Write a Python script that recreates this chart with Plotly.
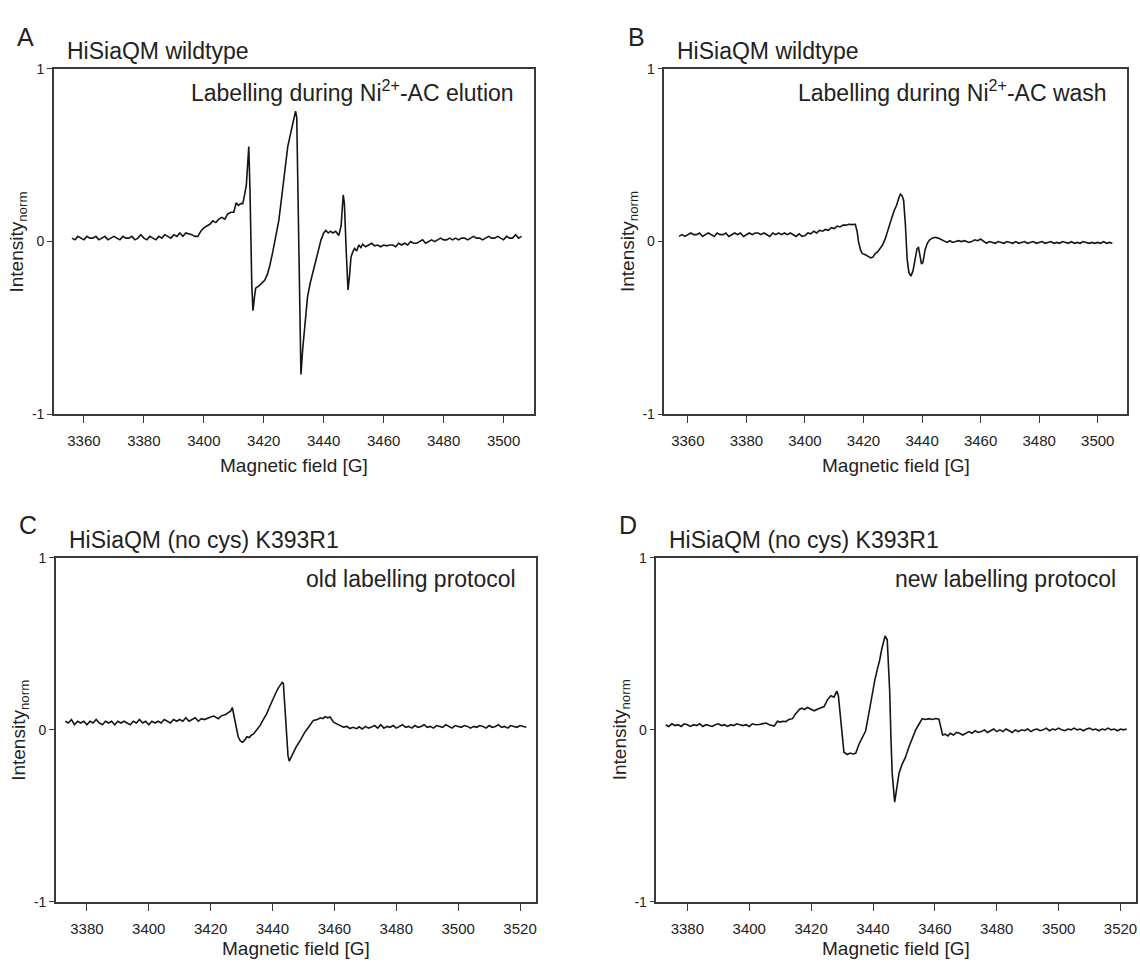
import plotly.graph_objects as go

# ---- spectra: (magnetic field [G], normalised intensity) ----
spectrum_a = [
    (3356, 0.02), (3357, 0.01), (3358, 0.03), (3359, 0.02), (3360, 0.01), (3361, 0.03), (3362, 0.02),
    (3363, 0.02), (3364, 0.03), (3365, 0.01), (3366, 0.02), (3367, 0.03), (3368, 0.01), (3369, 0.02),
    (3370, 0.03), (3371, 0.02), (3372, 0.01), (3373, 0.03), (3374, 0.02), (3375, 0.02), (3376, 0.03),
    (3377, 0.01), (3378, 0.02), (3379, 0.04), (3380, 0.02), (3381, 0.01), (3382, 0.03), (3383, 0.02),
    (3384, 0.01), (3385, 0.03), (3386, 0.02), (3387, 0.04), (3388, 0.03), (3389, 0.02), (3390, 0.04),
    (3391, 0.03), (3392, 0.05), (3393, 0.03), (3394, 0.05), (3395, 0.045), (3396, 0.04), (3397, 0.03),
    (3398, 0.03), (3399, 0.06), (3400, 0.08), (3401, 0.09), (3402, 0.10), (3403, 0.12), (3404, 0.11),
    (3405, 0.13), (3406, 0.14), (3407, 0.13), (3408, 0.16), (3409, 0.17), (3410, 0.17), (3410.8, 0.225),
    (3411.5, 0.21), (3412.3, 0.22), (3413, 0.22), (3413.6, 0.27), (3414.2, 0.33), (3415.0, 0.55),
    (3415.4, 0.30), (3416.0, -0.25), (3416.4, -0.40), (3416.9, -0.32), (3417.3, -0.27), (3418.5, -0.255),
    (3419.5, -0.24), (3420.3, -0.225), (3421.2, -0.19), (3422, -0.14), (3423, -0.06), (3424, 0.02),
    (3425, 0.12), (3426, 0.26), (3427, 0.42), (3428, 0.55), (3429, 0.63), (3430, 0.70), (3430.6, 0.755),
    (3431, 0.72), (3431.5, 0.20), (3432, -0.45), (3432.4, -0.77), (3433, -0.62), (3433.8, -0.45),
    (3434.6, -0.32), (3435.5, -0.24), (3436.5, -0.17), (3437.4, -0.10), (3438.3, -0.05), (3439.1, 0.01),
    (3440, 0.05), (3440.7, 0.065), (3441.5, 0.05), (3442.3, 0.06), (3443, 0.05), (3444, 0.06),
    (3445, 0.035), (3445.8, 0.09), (3446.5, 0.27), (3446.9, 0.22), (3447.5, -0.05), (3448.1, -0.28),
    (3448.6, -0.20), (3449.1, -0.09), (3449.7, -0.06), (3450.3, -0.04), (3451, -0.055), (3451.7, -0.02),
    (3452.4, -0.035), (3453, -0.015), (3454, -0.03), (3455, -0.02), (3456, -0.01), (3457, -0.025),
    (3458, -0.02), (3459, -0.03), (3460, -0.02), (3461, -0.025), (3462, -0.02), (3463, -0.02),
    (3464, -0.03), (3465, -0.01), (3466, -0.02), (3467, -0.01), (3468, -0.02), (3469, 0.00),
    (3470, -0.01), (3471, -0.01), (3472, 0.00), (3473, 0.01), (3474, -0.01), (3475, 0.00),
    (3476, 0.01), (3477, 0.00), (3478, 0.01), (3479, 0.02), (3480, 0.01), (3481, 0.01), (3482, 0.02),
    (3483, 0.01), (3484, 0.02), (3485, 0.01), (3486, 0.02), (3487, 0.02), (3488, 0.01), (3489, 0.02),
    (3490, 0.03), (3491, 0.02), (3492, 0.02), (3493, 0.01), (3494, 0.02), (3495, 0.03), (3496, 0.02),
    (3497, 0.02), (3498, 0.03), (3499, 0.02), (3500, 0.01), (3501, 0.03), (3502, 0.02), (3503, 0.02),
    (3504, 0.04), (3505, 0.02), (3506, 0.03),
]

spectrum_b = [
    (3357, 0.03), (3358, 0.04), (3359, 0.03), (3360, 0.04), (3361, 0.05), (3362, 0.04), (3363, 0.04),
    (3364, 0.05), (3365, 0.03), (3366, 0.04), (3367, 0.05), (3368, 0.04), (3369, 0.03), (3370, 0.05),
    (3371, 0.04), (3372, 0.04), (3373, 0.05), (3374, 0.03), (3375, 0.04), (3376, 0.05), (3377, 0.04),
    (3378, 0.05), (3379, 0.03), (3380, 0.04), (3381, 0.05), (3382, 0.04), (3383, 0.05), (3384, 0.05),
    (3385, 0.04), (3386, 0.05), (3387, 0.04), (3388, 0.03), (3389, 0.05), (3390, 0.04), (3391, 0.05),
    (3392, 0.04), (3393, 0.05), (3394, 0.04), (3395, 0.05), (3396, 0.04), (3397, 0.03), (3398, 0.045),
    (3399, 0.03), (3400, 0.035), (3401, 0.05), (3402, 0.045), (3403, 0.06), (3404, 0.05), (3405, 0.065),
    (3406, 0.06), (3407, 0.07), (3408, 0.065), (3409, 0.08), (3410, 0.075), (3411, 0.09), (3412, 0.085),
    (3413, 0.095), (3414, 0.095), (3415, 0.10), (3416, 0.098), (3417.2, 0.10), (3417.8, 0.06),
    (3418.3, 0.00), (3419, -0.05), (3419.6, -0.07), (3420.5, -0.075), (3421.5, -0.085), (3422.5, -0.095),
    (3423.2, -0.09), (3424, -0.07), (3424.8, -0.06), (3425.5, -0.045), (3426.5, -0.02), (3427.5, 0.02),
    (3428.5, 0.08), (3429.5, 0.13), (3430.5, 0.18), (3431.3, 0.21), (3432.0, 0.25), (3432.6, 0.275),
    (3433.2, 0.265), (3433.7, 0.24), (3434.3, 0.10), (3434.9, -0.10), (3435.5, -0.18), (3436.2, -0.20),
    (3436.9, -0.17), (3437.6, -0.10), (3438.3, -0.04), (3438.8, -0.035), (3439.3, -0.08), (3439.8, -0.13),
    (3440.3, -0.12), (3441, -0.05), (3441.8, -0.01), (3442.6, 0.01), (3443.5, 0.02), (3444.5, 0.025),
    (3445.5, 0.02), (3446.5, 0.01), (3447.5, 0.00), (3448.5, -0.005), (3449.5, 0.005), (3450.5, -0.005),
    (3451.5, 0.00), (3452.5, 0.005), (3453.5, 0.00), (3454.5, 0.005), (3456, -0.005), (3457, 0.00),
    (3458, 0.01), (3459, 0.005), (3460, 0.015), (3461, 0.00), (3462, -0.01), (3463, 0.00), (3464, -0.005),
    (3465, -0.01), (3466, 0.00), (3467, -0.005), (3468, -0.01), (3469, 0.00), (3470, -0.005),
    (3471, -0.01), (3472, 0.00), (3473, -0.01), (3474, -0.005), (3475, 0.00), (3476, -0.01),
    (3477, -0.005), (3478, 0.00), (3479, -0.01), (3480, -0.005), (3481, 0.00), (3482, -0.01),
    (3483, -0.005), (3484, 0.00), (3485, -0.01), (3486, -0.005), (3487, -0.01), (3488, 0.00),
    (3489, -0.005), (3490, -0.01), (3491, 0.00), (3492, -0.01), (3493, -0.005), (3494, -0.01),
    (3495, 0.00), (3496, -0.005), (3497, -0.01), (3498, -0.005), (3499, -0.01), (3500, -0.005),
    (3501, -0.01), (3502, 0.00), (3503, -0.01), (3504, -0.005), (3505, -0.01),
]

spectrum_c = [
    (3373, 0.05), (3374, 0.04), (3375, 0.06), (3376, 0.03), (3377, 0.05), (3378, 0.04), (3379, 0.05),
    (3380, 0.03), (3381, 0.05), (3382, 0.04), (3383, 0.06), (3384, 0.04), (3385, 0.03), (3386, 0.05),
    (3387, 0.04), (3388, 0.05), (3389, 0.03), (3390, 0.05), (3391, 0.04), (3392, 0.05), (3393, 0.04),
    (3394, 0.03), (3395, 0.05), (3396, 0.04), (3397, 0.06), (3398, 0.04), (3399, 0.05), (3400, 0.03),
    (3401, 0.05), (3402, 0.04), (3403, 0.05), (3404, 0.04), (3405, 0.06), (3406, 0.05), (3407, 0.04),
    (3408, 0.06), (3409, 0.05), (3410, 0.06), (3411, 0.05), (3412, 0.07), (3413, 0.05), (3414, 0.06),
    (3415, 0.07), (3416, 0.05), (3417, 0.065), (3418, 0.06), (3419, 0.07), (3420, 0.075), (3421, 0.08),
    (3422, 0.07), (3422.5, 0.065), (3423.3, 0.08), (3424.1, 0.085), (3425, 0.09), (3425.7, 0.10),
    (3426.5, 0.11), (3427.0, 0.13), (3427.6, 0.07), (3428.3, 0.00), (3428.9, -0.04), (3429.6, -0.065),
    (3430.3, -0.072), (3431, -0.06), (3431.7, -0.04), (3432.5, -0.045), (3433.2, -0.03), (3433.8, -0.025),
    (3434.8, 0.00), (3436.0, 0.026), (3437, 0.06), (3438.1, 0.093), (3439.2, 0.14), (3440.3, 0.187),
    (3441.2, 0.22), (3441.9, 0.244), (3442.6, 0.265), (3443.1, 0.276), (3443.5, 0.27), (3443.9, 0.15),
    (3444.4, -0.04), (3445.0, -0.15), (3445.4, -0.182), (3446.0, -0.16), (3446.8, -0.125), (3447.6, -0.10),
    (3448.4, -0.078), (3449.4, -0.045), (3450.5, -0.012), (3451.8, 0.02), (3453.2, 0.055), (3454.5, 0.06),
    (3455.5, 0.07), (3456.3, 0.065), (3457.0, 0.077), (3457.8, 0.07), (3458.6, 0.075), (3459.7, 0.045),
    (3460.8, 0.035), (3461.8, 0.03), (3462.9, 0.016), (3464, 0.02), (3465, 0.008), (3466, 0.015),
    (3467.2, 0.007), (3468, 0.018), (3469, 0.005), (3470, 0.02), (3471, 0.01), (3472, 0.016),
    (3473, 0.025), (3474, 0.01), (3475, 0.03), (3476, 0.01), (3477, 0.02), (3478, 0.015), (3479, 0.025),
    (3480, 0.01), (3481, 0.02), (3482, 0.03), (3483, 0.015), (3484, 0.02), (3485, 0.01), (3486, 0.025),
    (3487, 0.015), (3488, 0.02), (3489, 0.03), (3490, 0.015), (3491, 0.02), (3492, 0.01), (3493, 0.025),
    (3494, 0.02), (3495, 0.015), (3496, 0.03), (3497, 0.02), (3498, 0.01), (3499, 0.025), (3500, 0.02),
    (3501, 0.015), (3502, 0.025), (3503, 0.02), (3504, 0.01), (3505, 0.02), (3506, 0.015), (3507, 0.025),
    (3508, 0.02), (3509, 0.01), (3510, 0.025), (3511, 0.015), (3512, 0.02), (3513, 0.03), (3514, 0.015),
    (3515, 0.02), (3516, 0.01), (3517, 0.025), (3518, 0.02), (3519, 0.015), (3520, 0.025), (3521, 0.02),
    (3522, 0.015),
]

spectrum_d = [
    (3373, 0.03), (3374, 0.02), (3375, 0.035), (3376, 0.025), (3377, 0.03), (3378, 0.02), (3379, 0.035),
    (3380, 0.03), (3381, 0.02), (3382, 0.03), (3383, 0.025), (3384, 0.035), (3385, 0.02), (3386, 0.03),
    (3387, 0.025), (3388, 0.02), (3389, 0.03), (3390, 0.035), (3391, 0.025), (3392, 0.03), (3393, 0.02),
    (3394, 0.03), (3395, 0.025), (3396, 0.035), (3397, 0.03), (3398, 0.025), (3399, 0.03), (3400, 0.02),
    (3401, 0.035), (3402, 0.03), (3403.2, 0.031), (3404.3, 0.035), (3405.4, 0.04), (3406.5, 0.03),
    (3407.3, 0.025), (3408.1, 0.022), (3409.1, 0.05), (3410, 0.045), (3410.9, 0.05), (3411.8, 0.048),
    (3412.8, 0.06), (3414.0, 0.065), (3414.8, 0.09), (3415.6, 0.107), (3416.3, 0.12), (3417.0, 0.126),
    (3417.8, 0.118), (3418.8, 0.13), (3419.8, 0.12), (3421.0, 0.111), (3422.0, 0.12), (3423.0, 0.125),
    (3424.2, 0.135), (3425.2, 0.173), (3426.4, 0.198), (3427.4, 0.19), (3428.3, 0.226), (3428.8, 0.20),
    (3429.6, 0.031), (3430.6, -0.13), (3431.7, -0.143), (3432.6, -0.135), (3433.5, -0.14), (3434.4, -0.136),
    (3435.5, -0.082), (3436.5, -0.05), (3437.6, -0.007), (3438.7, 0.10), (3439.8, 0.22), (3440.6, 0.29),
    (3441.4, 0.353), (3442.1, 0.40), (3442.8, 0.467), (3443.4, 0.52), (3443.9, 0.546), (3444.6, 0.523),
    (3445.0, 0.40), (3445.4, 0.22), (3445.8, -0.05), (3446.2, -0.253), (3447.0, -0.42), (3447.6, -0.35),
    (3448.4, -0.253), (3449.4, -0.20), (3450.5, -0.159), (3451.6, -0.10), (3452.7, -0.045), (3453.8, 0.00),
    (3454.8, 0.031), (3455.9, 0.065), (3457.0, 0.06), (3458.1, 0.065), (3459.2, 0.06), (3460.3, 0.066),
    (3461.3, 0.062), (3461.9, 0.02), (3462.5, -0.03), (3463.3, -0.025), (3464.2, -0.035), (3465, -0.02),
    (3466, -0.03), (3467, -0.015), (3468, -0.02), (3469, -0.03), (3470, -0.02), (3471, -0.01),
    (3472, -0.02), (3473, -0.005), (3474, -0.015), (3475, -0.01), (3476, 0.00), (3477, -0.015),
    (3478, -0.005), (3479, 0.005), (3480, -0.01), (3481, 0.00), (3482, -0.01), (3483, 0.005),
    (3484, -0.005), (3485, -0.015), (3486, 0.00), (3487, -0.01), (3488, 0.00), (3489, -0.005),
    (3490, 0.005), (3491, -0.01), (3492, 0.00), (3493, 0.005), (3494, -0.005), (3495, 0.00),
    (3496, 0.01), (3497, -0.005), (3498, 0.005), (3499, 0.00), (3500, 0.01), (3501, 0.00),
    (3502, -0.005), (3503, 0.005), (3504, 0.00), (3505, 0.01), (3506, 0.00), (3507, 0.005),
    (3508, -0.005), (3509, 0.005), (3510, 0.01), (3511, 0.00), (3512, 0.005), (3513, -0.005),
    (3514, 0.005), (3515, 0.00), (3516, 0.01), (3517, 0.00), (3518, 0.005), (3519, -0.005),
    (3520, 0.005), (3521, 0.00), (3522, 0.005),
]

# ---- axis ticks and ranges ----
field_ticks_ab = [3360, 3380, 3400, 3420, 3440, 3460, 3480, 3500]
field_ticks_cd = [3380, 3400, 3420, 3440, 3460, 3480, 3500, 3520]
range_a = [3350, 3510]
range_b = [3352, 3510]
range_cd = [3370, 3525]
intensity_ticks = [-1, 0, 1]
intensity_labels = ["-1", "0", "1"]

# ---- panel texts ----
panel_letters = ["A", "B", "C", "D"]
panel_titles = ["HiSiaQM wildtype", "HiSiaQM wildtype",
                "HiSiaQM (no cys) K393R1", "HiSiaQM (no cys) K393R1"]
panel_notes = ["Labelling during Ni<sup>2+</sup>-AC elution",
               "Labelling during Ni<sup>2+</sup>-AC wash",
               "old labelling protocol", "new labelling protocol"]
x_title = "Magnetic field [G]"
y_title = "Intensity<sub>norm</sub>"

W, H = 1140, 967
FONT = "Arial, 'Liberation Sans', sans-serif"
INK = "#222222"
AXIS = "#3a3a3a"

# plot-area boxes in pixels: (left, top, right, bottom)
boxes = [(54, 62, 534, 413), (665, 62, 1128, 413),
         (56, 559, 536, 909), (657, 559, 1137, 909)]
# gap between box bottom and the x-axis title centre
x_title_gap = [52, 52, 47, 47]
spectra = [spectrum_a, spectrum_b, spectrum_c, spectrum_d]
ranges = [range_a, range_b, range_cd, range_cd]
ticks = [field_ticks_ab, field_ticks_ab, field_ticks_cd, field_ticks_cd]

fig = go.Figure()
annotations = []


def px(x):
    return x / W


def py(y):
    return 1 - y / H


def label(text, x, y, size, xanchor="center", angle=0):
    return dict(text=text, x=px(x), y=py(y), xref="paper", yref="paper",
                xanchor=xanchor, yanchor="middle", showarrow=False,
                textangle=angle, font=dict(family=FONT, size=size, color=INK))


for i, (box, spec, rng, tv) in enumerate(zip(boxes, spectra, ranges, ticks)):
    l, t, r, b = box
    n = "" if i == 0 else str(i + 1)
    fx = [p[0] for p in spec]
    fy = [p[1] for p in spec]
    fig.add_trace(go.Scatter(x=fx, y=fy, mode="lines",
                             line=dict(color="#151515", width=1.6),
                             xaxis="x" + n, yaxis="y" + n,
                             showlegend=False, hoverinfo="skip"))
    fig.layout["xaxis" + n] = dict(
        domain=[px(l), px(r)], anchor="y" + n, range=rng,
        tickmode="array", tickvals=tv, ticks="outside", ticklen=7,
        tickwidth=1.3, tickcolor=AXIS, showline=True, linecolor=AXIS,
        linewidth=1.5, mirror=True, showgrid=False, zeroline=False,
        ticklabelstandoff=5,
        tickfont=dict(family=FONT, size=15, color=INK))
    fig.layout["yaxis" + n] = dict(
        domain=[py(b), py(t)], anchor="x" + n, range=[-1, 1],
        tickmode="array", tickvals=intensity_ticks, ticktext=intensity_labels,
        ticks="outside", ticklen=5, tickwidth=1.3, tickcolor=AXIS,
        showline=True, linecolor=AXIS, linewidth=1.5, mirror=True,
        showgrid=False, zeroline=False,
        tickfont=dict(family=FONT, size=14, color=INK))

    cx = (l + r) / 2
    cy = (t + b) / 2
    annotations.append(label(panel_letters[i], l - 28, t - 33, 25))
    annotations.append(label(panel_titles[i], l + 11, t - 18, 23, xanchor="left"))
    annotations.append(label(panel_notes[i], r - 18, t + 22, 23, xanchor="right"))
    annotations.append(label(x_title, cx, b + x_title_gap[i], 19))
    annotations.append(label(y_title, l - 36, cy, 19, angle=-90))

fig.update_layout(width=W, height=H, margin=dict(l=0, r=0, t=0, b=0),
                  paper_bgcolor="white", plot_bgcolor="white",
                  annotations=annotations, hovermode=False)

fig.write_html("out.html", config={"displayModeBar": False})
